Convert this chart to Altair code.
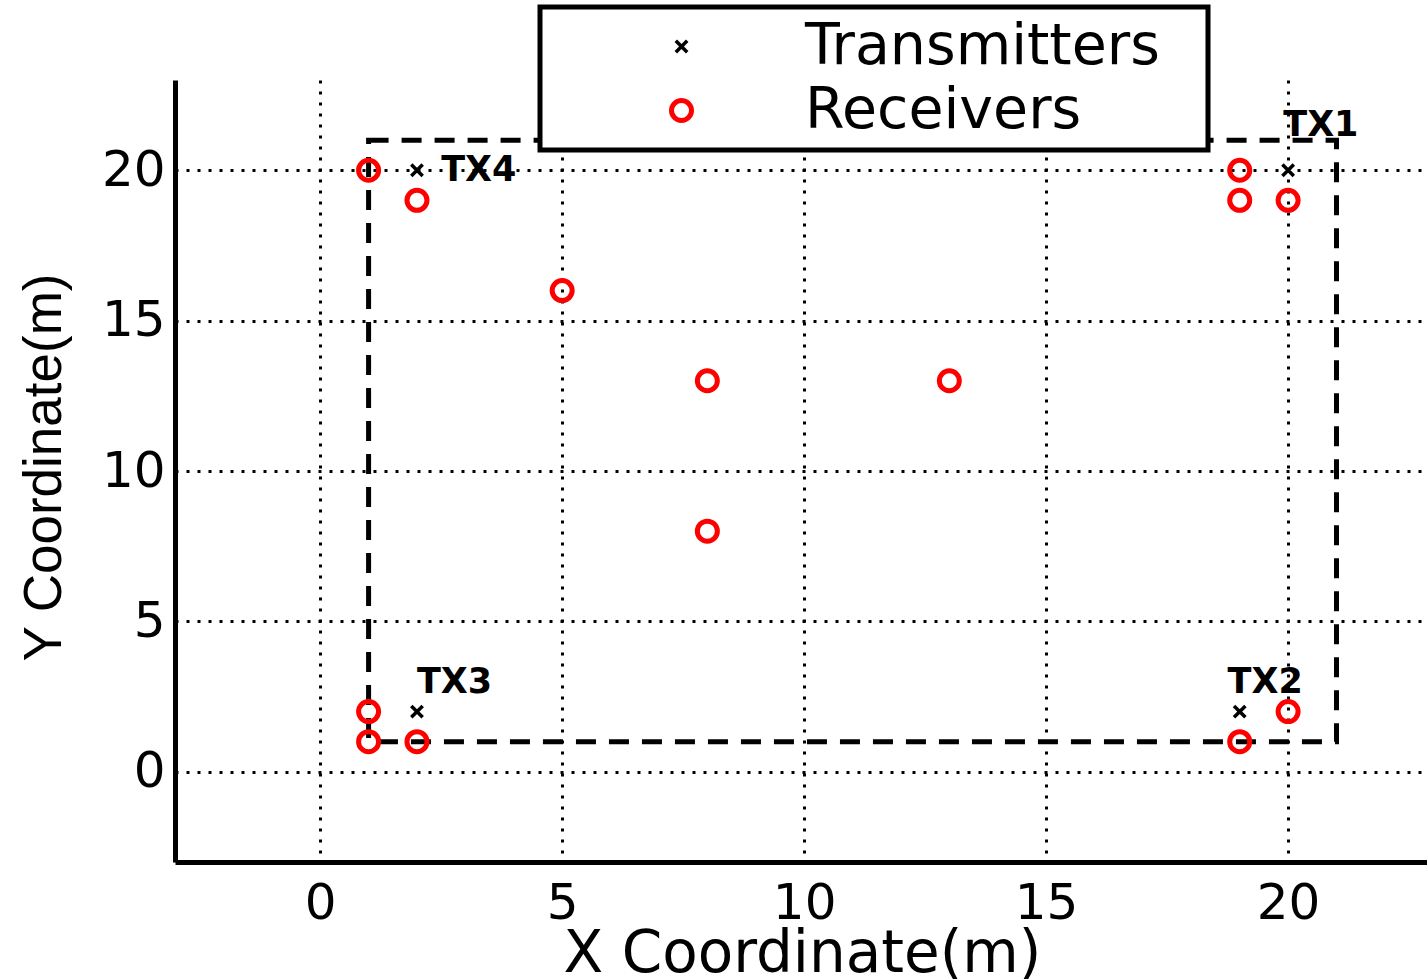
import altair as alt
import pandas as pd

# ---- data ----
series = ["Transmitters", "Receivers"]
tx_x = [20, 19, 2, 2]
tx_y = [20, 2, 2, 20]
rx_x = [1, 2, 5, 8, 13, 8, 19, 19, 20, 1, 1, 2, 19, 20]
rx_y = [20, 19, 16, 13, 13, 8, 20, 19, 19, 2, 1, 1, 1, 2]
label_text = ["TX1", "TX2", "TX3", "TX4"]
label_x = [19.9, 18.75, 2, 2.5]
label_y = [21.5, 3, 3, 20]
area_x = [1]
area_x2 = [21]
area_y = [1]
area_y2 = [21]
x_ticks = [0, 5, 10, 15, 20]
y_ticks = [0, 5, 10, 15, 20]
x_domain = [-3, 22.87]
y_domain = [-3, 23]

points = pd.DataFrame({
    "x": tx_x + rx_x,
    "y": tx_y + rx_y,
    "type": [series[0]] * len(tx_x) + [series[1]] * len(rx_x),
})
labels = pd.DataFrame({"x": label_x, "y": label_y, "text": label_text})
area = pd.DataFrame({"x": area_x, "x2": area_x2, "y": area_y, "y2": area_y2})

xscale = alt.Scale(domain=x_domain, nice=False, zero=False)
yscale = alt.Scale(domain=y_domain, nice=False, zero=False)

grid_common = dict(
    grid=True, gridDash=[3, 8], gridColor="black", gridWidth=3, gridOpacity=1,
    domainColor="black", domainWidth=5, ticks=False, tickSize=0,
    labelFont="DejaVu Sans", labelFontSize=50, labelColor="black",
)

x_axis = alt.Axis(values=x_ticks, labelPadding=16, title="X Coordinate(m)",
                  titleFont="DejaVu Sans", titleFontSize=58, titleFontWeight="normal",
                  titleColor="black", titleX=627, titleY=63, titleBaseline="top",
                  titleAlign="center", **grid_common)
y_axis = alt.Axis(values=y_ticks, labelPadding=10, title="Y Coordinate(m)",
                  titleFont="Liberation Sans", titleFontSize=53, titleFontWeight="normal",
                  titleColor="black", titleX=-131, titleY=387, titleBaseline="middle",
                  titleAlign="center", titleAngle=270, **grid_common)

rect = alt.Chart(area).mark_rect(filled=False, color="black", strokeWidth=5,
                                 strokeDash=[20, 13]).encode(
    x=alt.X("x:Q", scale=xscale, axis=x_axis),
    x2="x2:Q",
    y=alt.Y("y:Q", scale=yscale, axis=y_axis),
    y2="y2:Q",
)

# trailing no-break spaces (kept by a final zero-width char) widen the legend frame
pad = "\u00a0\u00a0\u200b"
legend = alt.Legend(
    title=None, orient="none", legendX=365, legendY=-73, padding=11,
    strokeColor="black", fillColor="white", labelFont="DejaVu Sans",
    labelFontSize=57, labelColor="black", labelLimit=2000,
    symbolSize=169, symbolStrokeWidth=2, symbolOffset=102, labelOffset=95,
    rowPadding=6, zindex=1, labelExpr="datum.label + '" + pad + "'",
)

pts = alt.Chart(points).mark_point(filled=False, opacity=1).encode(
    x=alt.X("x:Q", scale=xscale),
    y=alt.Y("y:Q", scale=yscale),
    color=alt.Color("type:N", scale=alt.Scale(domain=series, range=["black", "red"]),
                    legend=legend),
    shape=alt.Shape("type:N", scale=alt.Scale(domain=series,
                    range=["M-1,-1L1,1M1,-1L-1,1", "circle"]), legend=legend),
    size=alt.Size("type:O", scale=alt.Scale(domain=series, range=[130, 400]), legend=None),
    strokeWidth=alt.StrokeWidth("type:O", scale=alt.Scale(domain=series, range=[3.5, 5]),
                                legend=None),
)

txt = alt.Chart(labels).mark_text(align="left", baseline="middle", font="DejaVu Sans",
                                  fontSize=35, fontWeight="bold", color="black").encode(
    x=alt.X("x:Q", scale=xscale),
    y=alt.Y("y:Q", scale=yscale),
    text="text:N",
)

chart = alt.layer(rect, pts, txt).properties(
    width=1252, height=782,
    autosize=alt.AutoSizeParams(type="none"),
    padding={"left": 175, "top": 80, "right": 0, "bottom": 117},
    background="white",
).configure_view(stroke=None).configure_legend(strokeWidth=5)

chart.save("out.html", embed_options={"renderer": "svg", "actions": False})
